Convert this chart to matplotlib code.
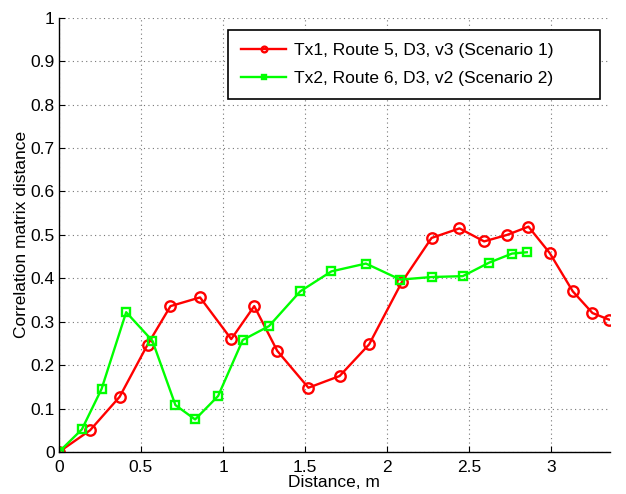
import numpy as np
import matplotlib.pyplot as plt

plt.rcParams['font.family'] = ['Liberation Sans', 'DejaVu Sans']

# Tx1, Route 5 (scenario 1)
x1 = [0, 0.19, 0.37, 0.54, 0.68, 0.86, 1.05, 1.19, 1.33, 1.52, 1.71, 1.89,
      2.09, 2.27, 2.44, 2.59, 2.73, 2.86, 2.99, 3.13, 3.25, 3.35]
y1 = [0, 0.05, 0.127, 0.247, 0.336, 0.356, 0.26, 0.336, 0.233, 0.148, 0.175, 0.248,
      0.392, 0.493, 0.515, 0.485, 0.5, 0.519, 0.458, 0.37, 0.32, 0.305]

# Tx2, Route 6 (scenario 2)
x2 = [0, 0.14, 0.26, 0.41, 0.57, 0.71, 0.83, 0.97, 1.12, 1.28, 1.47, 1.66,
      1.87, 2.08, 2.27, 2.46, 2.62, 2.76, 2.85]
y2 = [0, 0.052, 0.145, 0.322, 0.256, 0.108, 0.075, 0.129, 0.258, 0.29, 0.37, 0.416,
      0.434, 0.397, 0.403, 0.405, 0.436, 0.457, 0.46]

labels = ['Tx1, Route 5, D3, v3 (Scenario 1)', 'Tx2, Route 6, D3, v2 (Scenario 2)']

fig = plt.figure(figsize=(6.26, 4.94), dpi=100)
ax = fig.add_axes([0.094, 0.085, 0.88, 0.879])

ax.plot(x1, y1, color=(1, 0, 0), lw=1.7, marker='o', ms=7.5, mfc='none',
        mew=1.7, label=labels[0])
ax.plot(x2, y2, color=(0, 1, 0), lw=1.7, marker='s', ms=6, mfc='none',
        mew=1.7, label=labels[1])

ax.set_xlim(0, 3.355)
ax.set_ylim(0, 1)
ax.set_xticks([0, 0.5, 1, 1.5, 2, 2.5, 3])
ax.set_xticklabels(['0', '0.5', '1', '1.5', '2', '2.5', '3'])
ax.set_yticks(np.arange(0, 1.01, 0.1))
ax.set_yticklabels(['0'] + ['%.1f' % v for v in np.arange(0.1, 0.95, 0.1)] + ['1'])
ax.tick_params(direction='in', labelsize=12.5, length=4, pad=3)
ax.tick_params(axis='x', pad=5.5)
ax.grid(True, linestyle=(0, (1, 3)), color='#777777', lw=0.8)

for s in ['top', 'right']:
    ax.spines[s].set_visible(False)
for s in ['left', 'bottom']:
    ax.spines[s].set_linewidth(1.0)

ax.set_xlabel('Distance, m', fontsize=12.5, labelpad=0.5)
ax.set_ylabel('Correlation matrix distance', fontsize=12.5, labelpad=1)

# matlab-style legend box: wide, with extra room on the right
leg = ax.legend(loc='upper left', bbox_to_anchor=(0.307, 0.811, 0.675, 0.161),
                mode='expand', fontsize=12.5, markerscale=0.55, fancybox=False,
                framealpha=1, edgecolor='black', borderpad=0.75,
                labelspacing=0.75, handlelength=2.6, handletextpad=0.45,
                borderaxespad=0)
leg.get_frame().set_linewidth(1.2)

fig.savefig('out.png', dpi=100)
